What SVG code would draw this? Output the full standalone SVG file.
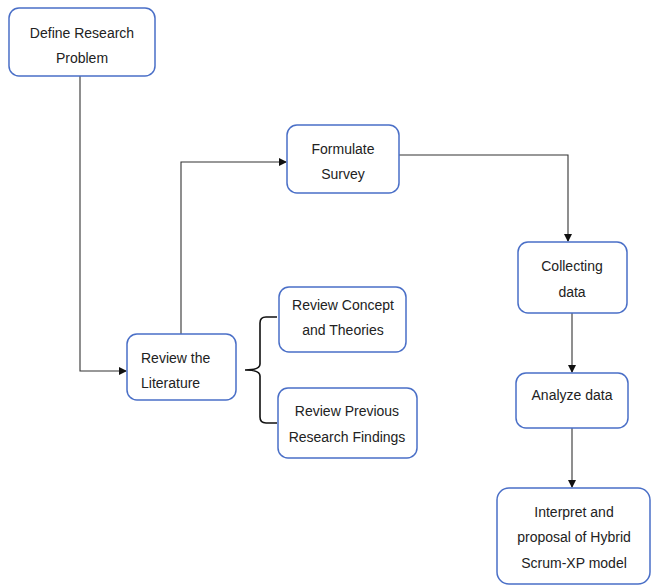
<svg xmlns="http://www.w3.org/2000/svg" width="652" height="587" viewBox="0 0 652 587">
<style>
.box{fill:#fff;stroke:#4a6fc7;stroke-width:1.5}
.t{font-family:"Liberation Sans",Arial,sans-serif;font-size:14px;fill:#222}
.c{text-anchor:middle}
.ln{fill:none;stroke:#333;stroke-width:1.1}
</style>
<defs>
<marker id="ah" markerWidth="8" markerHeight="8" refX="7" refY="4" orient="auto" markerUnits="userSpaceOnUse">
<path d="M0,0 L8,4 L0,8 Z" fill="#111"/>
</marker>
</defs>
<rect width="652" height="587" fill="#fff"/>
<g id="connectors">
<path class="ln" d="M80,76 V371 H126" marker-end="url(#ah)"/>
<path class="ln" d="M181,334 V162 H286" marker-end="url(#ah)"/>
<path class="ln" d="M399,155 H568 V241" marker-end="url(#ah)"/>
<path class="ln" d="M572,313 V372" marker-end="url(#ah)"/>
<path class="ln" d="M572,428 V487" marker-end="url(#ah)"/>
<path d="M277,317 H266 Q260,317 260,323 V364 Q260,370 245,370 Q260,370 260,376 V417 Q260,423 266,423 H277" fill="none" stroke="#111" stroke-width="1.6"/>
</g>
<g id="define">
<rect class="box" x="9" y="8" width="146" height="68" rx="10"/>
<text class="t c" x="82" y="38">Define Research</text>
<text class="t c" x="82" y="63">Problem</text>
</g>
<g id="literature">
<rect class="box" x="127" y="334" width="109" height="66" rx="10"/>
<text class="t" x="141" y="363">Review the</text>
<text class="t" x="141" y="388">Literature</text>
</g>
<g id="survey">
<rect class="box" x="287" y="125" width="112" height="68" rx="10"/>
<text class="t c" x="343" y="154">Formulate</text>
<text class="t c" x="343" y="179">Survey</text>
</g>
<g id="concept">
<rect class="box" x="279" y="287" width="127" height="65" rx="10"/>
<text class="t c" x="343" y="310">Review Concept</text>
<text class="t c" x="343" y="335">and Theories</text>
</g>
<g id="previous">
<rect class="box" x="278" y="388" width="139" height="70" rx="10"/>
<text class="t c" x="347" y="416">Review Previous</text>
<text class="t c" x="347" y="442">Research Findings</text>
</g>
<g id="collecting">
<rect class="box" x="518" y="242" width="109" height="71" rx="10"/>
<text class="t c" x="572" y="271">Collecting</text>
<text class="t c" x="572" y="297">data</text>
</g>
<g id="analyze">
<rect class="box" x="516" y="373" width="112" height="55" rx="10"/>
<text class="t c" x="572" y="400">Analyze data</text>
</g>
<g id="interpret">
<rect class="box" x="497" y="488" width="153" height="96" rx="12"/>
<text class="t c" x="574" y="517">Interpret and</text>
<text class="t c" x="574" y="542">proposal of Hybrid</text>
<text class="t c" x="574" y="568">Scrum-XP model</text>
</g>
</svg>
